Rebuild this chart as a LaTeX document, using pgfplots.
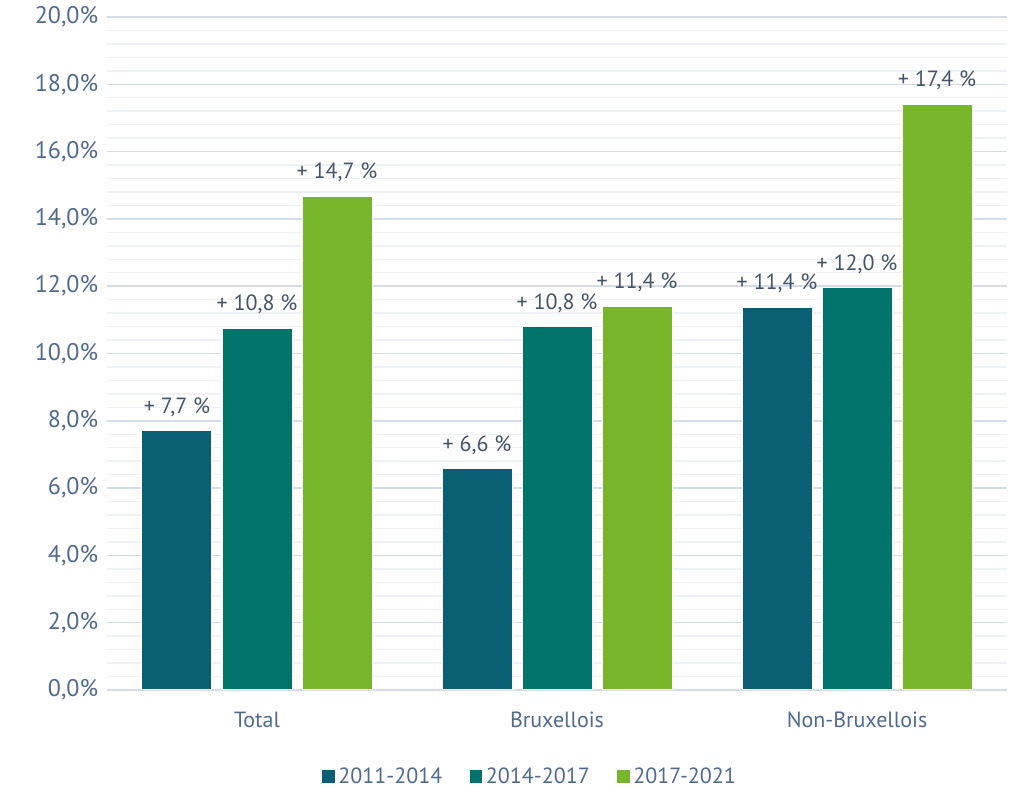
\documentclass[border=0pt]{standalone}
\usepackage{pgfplots}
\pgfplotsset{compat=1.18}
\usepackage{fontspec}
\setmainfont{PT Sans}
\definecolor{cA}{HTML}{0B5F75}
\definecolor{cB}{HTML}{00736A}
\definecolor{cC}{HTML}{77B62A}
\definecolor{txt}{HTML}{4F6A92}
\definecolor{lab}{HTML}{44546A}
\definecolor{gmaj}{HTML}{D3DCE8}
\definecolor{gmin}{HTML}{EEF2F7}
\begin{document}
\fontsize{16.5}{19}\selectfont
\begin{tikzpicture}
\begin{axis}[
  name=ax,
  scale only axis,
  width=675pt, height=504.75pt,
  ybar, bar width=52.5pt, bar shift auto,
  xmin=-0.5, xmax=2.5,
  ymin=0, ymax=20,
  ytick={0,2,...,20},
  minor ytick={0,0.4,...,20},
  xtick={0,1,2},
  xticklabels={Total,Bruxellois,Non-Bruxellois},
  axis line style={draw=none},
  major tick length=0pt, minor tick length=0pt,
  ymajorgrids, yminorgrids,
  major grid style={gmaj, line width=1.1pt},
  minor grid style={gmin, line width=1.1pt},
  /pgf/number format/assume math mode=true,
  yticklabel={\pgfmathprintnumber[fixed,fixed zerofill,precision=1,use comma]{\tick}\%},
  ticklabel style={text=txt, font=\fontsize{16.5}{19}\selectfont},
  yticklabel style={xshift=-1pt, font=\fontsize{18}{20}\selectfont},
  xticklabel style={yshift=-11pt},
  point meta=explicit symbolic,
  nodes near coords,
  nodes near coords style={text=lab, font=\fontsize{16.5}{19}\selectfont, anchor=south, yshift=5pt},
  legend style={at={(0.47,-0.107)}, anchor=north, draw=none, fill=none, legend columns=3,
    font=\fontsize{16.5}{19}\selectfont, text=txt,
    /tikz/every even column/.append style={column sep=18pt}},
  legend image code/.code={\fill[#1] (0pt,-4.5pt) rectangle (10pt,5.5pt);},
  every axis plot/.append style={draw=none},
  clip=false,
]
\addplot[fill=cA, draw=white, line width=0.75pt, bar shift=-60pt] coordinates {(0,7.7) [{+ 7,7 \%}] (1,6.57) [{+ 6,6 \%}] (2,11.38) [{+ 11,4 \%}]};
\addplot[fill=cB, draw=white, line width=0.75pt, bar shift=0pt] coordinates {(0,10.74) [{+ 10,8 \%}] (1,10.79) [{+ 10,8 \%}] (2,11.95) [{+ 12,0 \%}]};
\addplot[fill=cC, draw=white, line width=0.75pt, bar shift=60pt] coordinates {(0,14.68) [{+ 14,7 \%}] (1,11.41) [{+ 11,4 \%}] (2,17.41) [{+ 17,4 \%}]};
\legend{2011-2014,2014-2017,2017-2021}
\end{axis}
\pgfresetboundingbox
\path (ax.south west) ++(-80.25pt,-73.5pt) coordinate (bl);
\path (ax.north east) ++(7.5pt,12.75pt) coordinate (tr);
\useasboundingbox (bl) rectangle (tr);
\end{tikzpicture}
\end{document}
